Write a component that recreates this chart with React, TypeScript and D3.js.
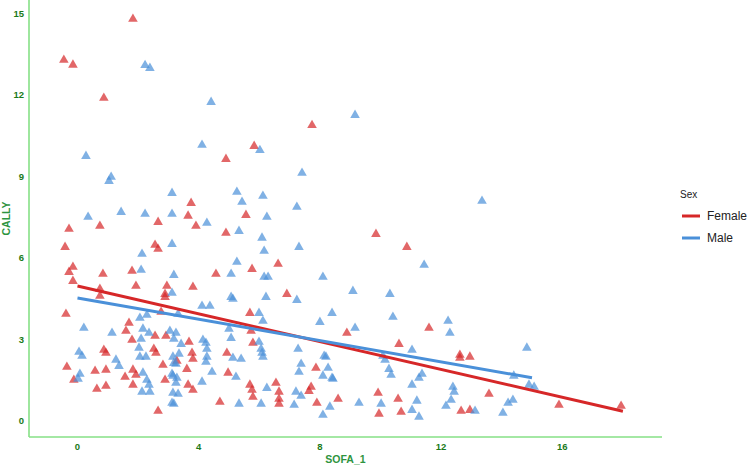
import React from "react";
import * as d3 from "d3";

const xTicks = [0, 4, 8, 12, 16];
const yTicks = [0, 3, 6, 9, 12, 15];
const seriesNames = ["Female", "Male"];
const seriesColors = ["#D62728", "#4A90D9"];

const femaleSofa = [1.83, -0.45, -0.15, 0.87, 7.74, 5.83, 4.9, 3.75, 3.65, 2.66, 3.91, -0.28, 0.74, 2.56, 2.66, -0.41, -0.15, -0.28, 0.84, 1.8,
  -0.15, 1.93, 0.74, 0.74, 2.95, 2.89, 2.89, 3.81, -0.38, 2.76, 1.7, 1.6, 1.8, 2.56, 2.92, 3.68, 0.87, 0.94, 2.52, 2.59,
  2.82, 3.28, 3.78, 3.81, -0.35, 0.58, 0.94, -0.12, 1.57, 1.83, 1.93, 2.89, 3.61, 0.64, 0.94, 1.83, 3.65, 3.81, 2.66, 4.7,
  4.57, 4.93, 4.97, 6.91, 5.69, 5.73, 5.79, 8.89, 11.6, 10.61, 7.87, 5.69, 5.76, 5.79, 6.55, 6.65, 6.65, 6.65, 7.71, 7.64,
  8.6, 7.9, 9.92, 9.95, 10.58, 10.68, 12.62, 12.62, 12.95, 13.58, 12.66, 12.95, 15.89, 17.94, 5.56, 4.9, 9.85, 10.87, 6.62, 5.76];
const femaleCally = [14.8, 13.29, 13.11, 11.89, 10.89, 10.12, 9.64, 8.02, 7.55, 7.32, 7.18, 7.07, 7.18, 6.48, 6.33, 6.4, 5.67, 5.48, 5.41, 5.52,
  5.15, 4.97, 4.86, 4.6, 4.97, 4.67, 4.56, 4.93, 3.94, 4.01, 3.61, 3.31, 2.98, 3.13, 3.13, 2.91, 2.61, 2.5, 2.65, 2.5,
  2.06, 2.21, 2.5, 2.28, 1.99, 1.84, 1.88, 1.51, 1.62, 1.88, 1.69, 1.51, 1.91, 1.18, 1.29, 1.33, 1.33, 1.14, 0.37, 0.7,
  5.41, 2.5, 1.77, 4.67, 3.97, 3.31, 2.87, 3.24, 3.42, 2.83, 1.95, 1.33, 1.14, 0.88, 1.4, 1.07, 0.81, 0.63, 1.25, 1.1,
  0.81, 0.66, 1.03, 0.26, 0.81, 0.33, 2.43, 2.32, 2.36, 0.99, 0.37, 0.4, 0.59, 0.55, 7.58, 6.92, 6.88, 6.4, 5.78, 5.59];

const maleSofa = [2.23, 2.39, 4.41, 9.16, 0.28, 4.11, 6.02, 1.11, 1.04, 3.12, 0.35, 1.44, 2.23, 3.12, 3.12, 2.13, 2.1, 3.18, 3.12, 2.29,
  3.32, 0.21, 1.14, 2.06, 2.16, 2.36, 2.1, 3.05, 3.25, 3.18, 3.42, 0.05, 0.15, 1.27, 1.37, 2.03, 2.06, 2.26, 3.15, 3.35,
  3.18, 0.08, 0.02, 2.16, 3.12, 3.28, 4.11, 4.37, 4.14, 4.24, 4.27, 4.27, 4.24, 4.44, 3.25, 2.29, 2.13, 2.39, 2.36, 3.15,
  3.25, 4.11, 3.15, 3.32, 3.12, 3.18, 5.33, 6.25, 6.06, 7.21, 7.38, 7.15, 8.33, 8.1, 9.29, 5.07, 6.16, 6.29, 8.1, 5.07,
  5.13, 6.22, 7.24, 9.09, 10.31, 5.99, 6.12, 8.4, 8.0, 10.41, 9.16, 5.0, 5.07, 5.99, 6.06, 6.09, 6.12, 7.28, 11.04, 5.13,
  5.4, 8.2, 8.14, 10.08, 10.15, 5.23, 7.38, 7.31, 8.27, 8.1, 8.4, 8.43, 10.28, 10.35, 11.04, 11.27, 11.37, 10.02, 11.04, 11.2,
  11.27, 12.23, 12.29, 14.83, 14.4, 14.9, 15.07, 12.39, 12.43, 12.33, 12.16, 13.12, 14.21, 14.37, 14.04, 13.35, 7.41, 5.26, 6.12, 5.43,
  7.24, 6.25, 4.27, 5.33, 6.09, 7.31, 6.16, 11.44, 5.26];
const maleCally = [13.1, 12.99, 11.74, 11.26, 9.75, 10.16, 9.97, 8.98, 8.83, 8.39, 7.51, 7.69, 7.62, 7.62, 6.51, 6.15, 5.56, 5.37, 4.71, 3.9,
  3.94, 3.42, 3.24, 3.79, 3.39, 3.24, 3.02, 3.31, 3.24, 3.02, 2.83, 2.54, 2.39, 2.25, 2.02, 2.69, 2.36, 2.36, 2.36, 2.47,
  2.13, 1.73, 1.55, 1.77, 1.73, 1.58, 4.23, 4.23, 2.98, 2.87, 2.65, 2.36, 2.17, 1.8, 2.1, 1.51, 1.07, 1.07, 1.33, 1.66,
  1.4, 1.44, 1.03, 0.99, 0.66, 0.63, 0.63, 1.21, 0.63, 1.07, 0.92, 0.59, 0.52, 0.22, 0.66, 5.41, 5.3, 5.3, 5.3, 4.56,
  4.49, 4.56, 4.45, 4.78, 4.67, 3.97, 3.68, 3.97, 3.64, 3.83, 3.42, 3.39, 3.05, 2.91, 2.65, 2.5, 2.36, 2.65, 2.61, 2.32,
  2.28, 2.36, 2.39, 2.39, 2.25, 1.62, 2.1, 1.8, 1.95, 1.66, 1.58, 1.55, 1.91, 1.69, 1.33, 1.58, 1.73, 0.63, 0.4, 0.74,
  0.15, 3.68, 3.24, 2.69, 1.66, 1.33, 1.25, 1.25, 1.07, 0.77, 0.55, 0.37, 0.66, 0.77, 0.29, 8.1, 9.13, 8.43, 8.28, 8.06,
  7.88, 7.51, 7.29, 6.99, 6.74, 6.4, 6.26, 5.74, 5.85];

// fitted regression lines (endpoints over each group's SOFA range)
const femaleFitSofa = [0, 18];
const femaleFitCally = [4.97, 0.36];
const maleFitSofa = [0, 15];
const maleFitCally = [4.53, 1.59];

const W = 750;
const H = 466;
const plotLeft = 29;
const plotRight = 662;
const plotTop = 0;
const plotBottom = 437;

export default function App() {
  const x = d3.scaleLinear().domain([-1.6, 19.29]).range([plotLeft, plotRight]);
  const y = d3.scaleLinear().domain([-0.59, 15.5]).range([plotBottom, plotTop]);
  const tri = d3.symbol().type(d3.symbolTriangle).size(40)();
  const line = d3.line<[number, number]>().x((d) => x(d[0])).y((d) => y(d[1]));

  const series = [
    { sofa: femaleSofa, cally: femaleCally, fx: femaleFitSofa, fy: femaleFitCally },
    { sofa: maleSofa, cally: maleCally, fx: maleFitSofa, fy: maleFitCally },
  ];
  const font = "'Liberation Sans', Arial, Helvetica, sans-serif";
  const tickColor = "#1a7a1a";
  const titleColor = "#2e9440";
  const axisColor = "#86e086";

  return (
    <svg width={W} height={H} style={{ position: "absolute", left: 0, top: 0, background: "#fff" }} fontFamily={font}>
      <rect x={0} y={0} width={W} height={H} fill="#fff" />
      {series.map((s, si) =>
        s.sofa.map((v, i) => (
          <path
            key={`p${si}-${i}`}
            d={tri || ""}
            transform={`translate(${x(v)},${y(s.cally[i])})`}
            fill={seriesColors[si]}
            fillOpacity={0.7}
          />
        ))
      )}
      {series.map((s, si) => (
        <path
          key={`l${si}`}
          d={line(s.fx.map((v, i) => [v, s.fy[i]] as [number, number])) || ""}
          stroke={seriesColors[si]}
          strokeWidth={3}
          fill="none"
        />
      ))}
      <line x1={plotLeft} x2={plotLeft} y1={plotTop} y2={plotBottom} stroke={axisColor} strokeWidth={1.6} />
      <line x1={plotLeft} x2={plotRight} y1={plotBottom} y2={plotBottom} stroke={axisColor} strokeWidth={1.6} />
      {yTicks.map((t) => (
        <text key={`yt${t}`} x={24} y={y(t)} dy="0.35em" textAnchor="end" fontSize={9.5} fontWeight="bold" fill={tickColor}>
          {t}
        </text>
      ))}
      {xTicks.map((t) => (
        <text key={`xt${t}`} x={x(t)} y={447} dy="0.35em" textAnchor="middle" fontSize={9.5} fontWeight="bold" fill={tickColor}>
          {t}
        </text>
      ))}
      <text x={(plotLeft + plotRight) / 2} y={459} dy="0.35em" textAnchor="middle" fontSize={10.5} fontWeight="bold" fill={titleColor}>
        SOFA_1
      </text>
      <text
        transform={`translate(6,${(plotTop + plotBottom) / 2}) rotate(-90)`}
        dy="0.35em"
        textAnchor="middle"
        fontSize={10.5}
        fontWeight="bold"
        fill={titleColor}
      >
        CALLY
      </text>
      <text x={680} y={194} dy="0.35em" fontSize={10} fill="#222">
        Sex
      </text>
      {seriesNames.map((n, i) => (
        <g key={n} transform={`translate(0,${216 + i * 22})`}>
          <line x1={682} x2={700} y1={0} y2={0} stroke={seriesColors[i]} strokeWidth={3} />
          <text x={707} y={0} dy="0.35em" fontSize={12} fill="#222">
            {n}
          </text>
        </g>
      ))}
    </svg>
  );
}
